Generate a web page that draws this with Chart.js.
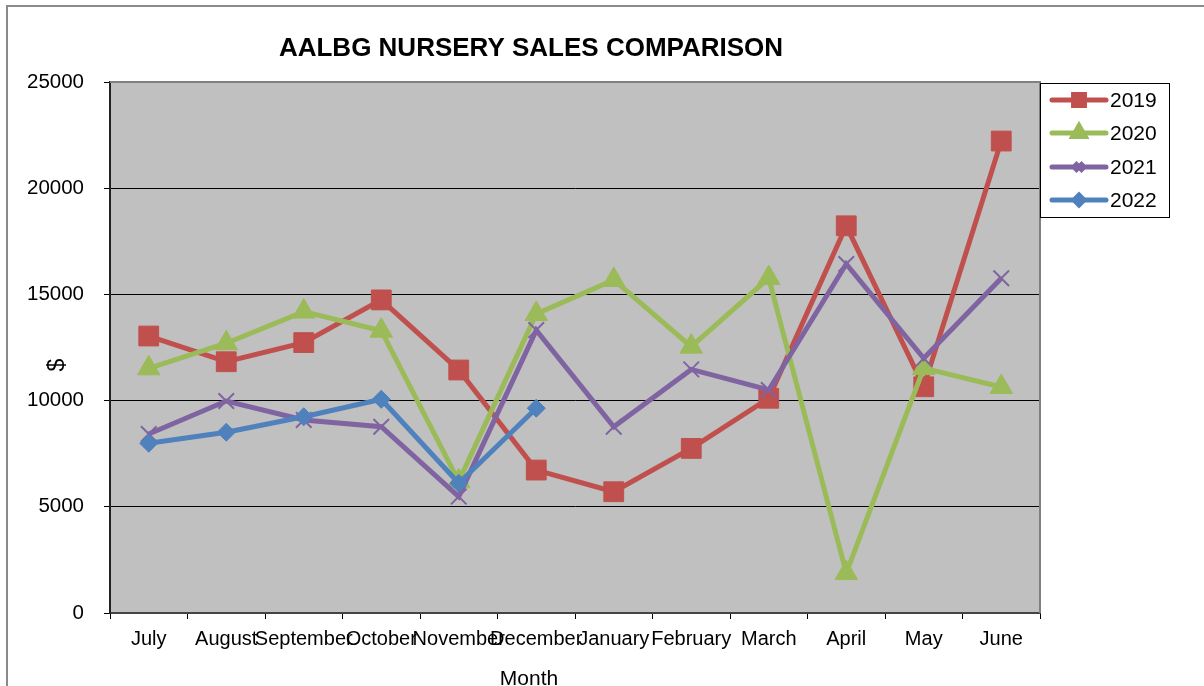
<!DOCTYPE html>
<html>
<head>
<meta charset="utf-8">
<script src="https://cdn.jsdelivr.net/npm/chart.js@4.4.0/dist/chart.umd.min.js"></script>
<style>
  html, body { margin: 0; padding: 0; background: #fff; }
  #c { display: block; }
</style>
</head>
<body>
<canvas id="c" width="1204" height="686"></canvas>
<script>
const months = ["July","August","September","October","November","December","January","February","March","April","May","June"];
const sales2019 = [13040, 11830, 12730, 14740, 11440, 6730, 5710, 7750, 10110, 18230, 10650, 22220];
const sales2020 = [11520, 12700, 14190, 13290, 6200, 14080, 15680, 12540, 15770, 1880, 11530, 10640];
const sales2021 = [8430, 9980, 9090, 8770, 5480, 13320, 8770, 11470, 10500, 16430, 11990, 15760];
const sales2022 = [7990, 8510, 9240, 10060, 6110, 9640];
const yTicks = [0, 5000, 10000, 15000, 20000, 25000];
const chartTitle = "AALBG NURSERY SALES COMPARISON";
const xTitle = "Month";
const yTitle = "$";

const FONT = "'Liberation Sans', Arial, sans-serif";
Chart.defaults.font.family = FONT;
Chart.defaults.font.size = 20;
Chart.defaults.color = '#000';

function ds(label, data, color, style, radius, order, bw) {
  return {
    label, data, order,
    borderColor: color, backgroundColor: color,
    borderWidth: 5,
    pointStyle: style, pointRadius: radius, pointHoverRadius: radius,
    pointBorderColor: color, pointBackgroundColor: color,
    pointBorderWidth: bw,
    tension: 0, fill: false
  };
}

const datasets = [
  ds('2019', sales2019, '#C0504D', 'rect', 14, 4, 1),
  ds('2020', sales2020, '#9BBB59', 'triangle', 13, 3, 1),
  ds('2021', sales2021, '#8064A2', 'crossRot', 11, 2, 2),
  ds('2022', sales2022, '#4F81BD', 'rectRot', 9, 1, 1)
];

const framePlugin = {
  id: 'frame',
  beforeDraw(chart) {
    const ctx = chart.ctx, a = chart.chartArea;
    ctx.save();
    ctx.fillStyle = '#fff';
    ctx.fillRect(0, 0, chart.width, chart.height);
    ctx.strokeStyle = '#8a8a8a';
    ctx.lineWidth = 2;
    ctx.strokeRect(7, 6, 1400, 900);
    ctx.fillStyle = '#C0C0C0';
    ctx.fillRect(a.left, a.top, a.right - a.left, a.bottom - a.top);
    ctx.restore();
  },
  beforeDatasetsDraw(chart) {
    const ctx = chart.ctx, a = chart.chartArea;
    ctx.save();
    ctx.strokeStyle = '#808080';
    ctx.lineWidth = 2;
    ctx.beginPath();
    ctx.moveTo(a.left, a.top);
    ctx.lineTo(a.right, a.top);
    ctx.lineTo(a.right, a.bottom);
    ctx.stroke();
    ctx.restore();
  },
  afterDraw(chart) {
    const ctx = chart.ctx;
    ctx.save();
    // titles
    ctx.fillStyle = '#000';
    ctx.textAlign = 'center';
    ctx.textBaseline = 'alphabetic';
    ctx.font = 'bold 26px ' + FONT;
    ctx.fillText(chartTitle, 531, 56);
    ctx.font = '21px ' + FONT;
    ctx.fillText(xTitle, 529, 684.5);
    ctx.save();
    ctx.translate(58, 365);
    ctx.rotate(-Math.PI / 2);
    ctx.textBaseline = 'middle';
    ctx.font = '23px ' + FONT;
    ctx.fillText(yTitle, 0, 0);
    ctx.restore();
    // legend
    const bx = 1040.5, by = 83.5, bw = 129, bh = 134;
    ctx.fillStyle = '#fff';
    ctx.fillRect(bx, by, bw, bh);
    ctx.strokeStyle = '#000';
    ctx.lineWidth = 1;
    ctx.strokeRect(bx, by, bw, bh);
    const ys = [100, 133, 167, 200];
    chart.data.datasets.forEach((d, i) => {
      const y = ys[i];
      ctx.strokeStyle = d.borderColor;
      ctx.lineWidth = 5;
      ctx.lineCap = 'round';
      ctx.beginPath();
      ctx.moveTo(1052, y);
      ctx.lineTo(1106, y);
      ctx.stroke();
      ctx.fillStyle = d.backgroundColor;
      ctx.strokeStyle = d.borderColor;
      ctx.lineCap = 'butt';
      Chart.helpers.drawPoint(ctx, {
        pointStyle: d.pointStyle, radius: d.pointRadius * 0.55, rotation: 0,
        borderWidth: d.pointBorderWidth
      }, 1079, y);
      ctx.fillStyle = '#000';
      ctx.font = '21px ' + FONT;
      ctx.textBaseline = 'middle';
      ctx.textAlign = 'left';
      ctx.fillText(d.label, 1110, y + 1);
    });
    ctx.restore();
  }
};

new Chart(document.getElementById('c'), {
  type: 'line',
  data: { labels: months, datasets },
  options: {
    responsive: false,
    animation: false,
    events: [],
    layout: { padding: { left: 0, right: 164, top: 82, bottom: 0 } },
    plugins: {
      legend: { display: false },
      tooltip: { enabled: false },
      title: { display: false }
    },
    scales: {
      x: {
        type: 'category',
        offset: true,
        grid: { offset: true, drawOnChartArea: false, drawTicks: true, tickLength: 6, color: '#000', tickColor: '#000' },
        border: { display: true, color: '#444', width: 2 },
        ticks: { maxRotation: 0, minRotation: 0, autoSkip: false, padding: 8, font: { size: 20 }, color: '#000' },
        title: { display: false },
        afterFit(scale) { scale.height = 73; }
      },
      y: {
        min: 0, max: 25000,
        afterBuildTicks(scale) { scale.ticks = yTicks.map(v => ({ value: v })); },
        grid: {
          drawTicks: true, tickLength: 6,
          color: ctx => (ctx.tick && ctx.tick.value === 25000) ? 'rgba(0,0,0,0)' : (ctx.tick && ctx.tick.value === 0 ? '#555' : '#000'),
          tickColor: '#000', lineWidth: 1
        },
        border: { display: true, color: '#222', width: 2 },
        ticks: { padding: 20, font: { size: 20.5 }, color: '#000', callback: v => String(v) },
        title: { display: false },
        afterFit(scale) { scale.width = 110; }
      }
    }
  },
  plugins: [framePlugin]
});
</script>
</body>
</html>
